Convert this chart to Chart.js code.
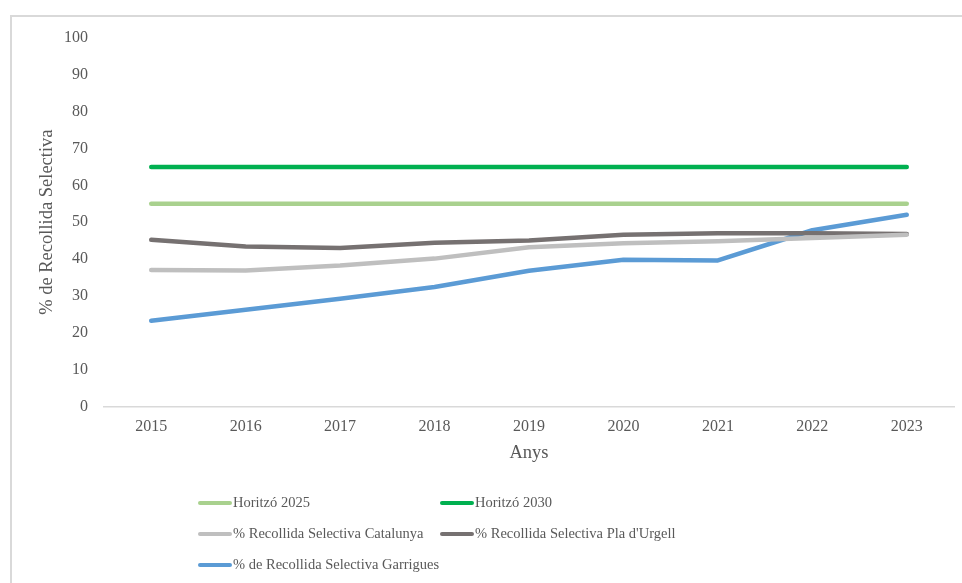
<!DOCTYPE html>
<html>
<head>
<meta charset="utf-8">
<script src="https://cdn.jsdelivr.net/npm/chart.js@4.4.1/dist/chart.umd.min.js"></script>
<style>
  html, body { margin: 0; padding: 0; background: #fff; }
  #wrap { position: relative; width: 962px; height: 583px; overflow: hidden; }
  #frame { position: absolute; left: 10px; top: 15px; right: -2px; bottom: -2px;
           border-top: 2px solid #d9d9d9; border-left: 2px solid #d9d9d9; }
  canvas { position: absolute; left: 0; top: 0; }
  #legend { position: absolute; left: 198px; top: 492px; font-family: "Liberation Serif", serif;
            font-size: 14.5px; color: #595959; }
  .item { position: absolute; white-space: nowrap; height: 20px; line-height: 20px; }
  .item span.sw { display: inline-block; width: 34px; height: 4px; border-radius: 2px;
                  vertical-align: middle; margin-right: 1px; position: relative; top: -1px; }
</style>
</head>
<body>
<div id="wrap">
  <div id="frame"></div>
  <canvas id="chart" width="962" height="583"></canvas>
  <div id="legend"></div>
</div>
<script>
const years = ["2015","2016","2017","2018","2019","2020","2021","2022","2023"];
const horitzo2025 = [55, 55, 55, 55, 55, 55, 55, 55, 55];
const horitzo2030 = [65, 65, 65, 65, 65, 65, 65, 65, 65];
const catalunya = [37.0, 36.9, 38.2, 40.1, 43.2, 44.3, 44.8, 45.7, 46.6];
const plaUrgell = [45.2, 43.4, 43.0, 44.4, 45.0, 46.6, 47.0, 47.0, 46.8];
const garrigues = [23.2, 26.2, 29.2, 32.4, 36.8, 39.8, 39.6, 47.8, 52.0];
const yTicks = [0, 10, 20, 30, 40, 50, 60, 70, 80, 90, 100];

const series = [
  { label: "Horitzó 2025", data: horitzo2025, color: "#A9D18E" },
  { label: "Horitzó 2030", data: horitzo2030, color: "#00B050" },
  { label: "% Recollida Selectiva Catalunya", data: catalunya, color: "#BFBFBF" },
  { label: "% Recollida Selectiva Pla d'Urgell", data: plaUrgell, color: "#767171" },
  { label: "% de Recollida Selectiva Garrigues", data: garrigues, color: "#5B9BD5" }
];

const serif = "'Liberation Serif', 'Times New Roman', serif";

const ctx = document.getElementById('chart').getContext('2d');
const chart = new Chart(ctx, {
  type: 'line',
  data: {
    labels: years,
    datasets: series.map(s => ({
      label: s.label,
      data: s.data,
      borderColor: s.color,
      backgroundColor: s.color,
      borderWidth: 4.5,
      borderCapStyle: 'round',
      borderJoinStyle: 'round',
      pointRadius: 0,
      tension: 0,
      fill: false
    }))
  },
  options: {
    responsive: false,
    animation: false,
    layout: { padding: { top: 38, right: 8, bottom: 121, left: 36 } },
    plugins: { legend: { display: false }, tooltip: { enabled: false } },
    scales: {
      x: {
        offset: true,
        grid: { display: false, drawTicks: false },
        border: { display: true, color: '#d9d9d9', width: 1.5 },
        ticks: { color: '#595959', font: { family: serif, size: 16 }, padding: 11, maxRotation: 0 },
        title: { display: true, text: 'Anys', color: '#595959', font: { family: serif, size: 18.5, lineHeight: 1 }, padding: { top: -4, bottom: 0 } }
      },
      y: {
        min: 0, max: 100,
        afterBuildTicks: s => { s.ticks = yTicks.map(v => ({ value: v })); },
        grid: { display: false, drawTicks: false },
        border: { display: false },
        ticks: { color: '#595959', font: { family: serif, size: 16 }, padding: 16 },
        title: { display: true, text: '% de Recollida Selectiva', color: '#595959', font: { family: serif, size: 18.5 }, padding: 0 },
        afterFit: s => { s.width = 68; }
      }
    }
  }
});

// legend in two columns, like the original
const legend = document.getElementById('legend');
series.forEach((s, i) => {
  const d = document.createElement('div');
  d.className = 'item';
  d.style.left = (i % 2) * 242 + 'px';
  d.style.top = Math.floor(i / 2) * 31 + 'px';
  d.innerHTML = '<span class="sw" style="background:' + s.color + '"></span>' + s.label;
  legend.appendChild(d);
});
</script>
</body>
</html>
